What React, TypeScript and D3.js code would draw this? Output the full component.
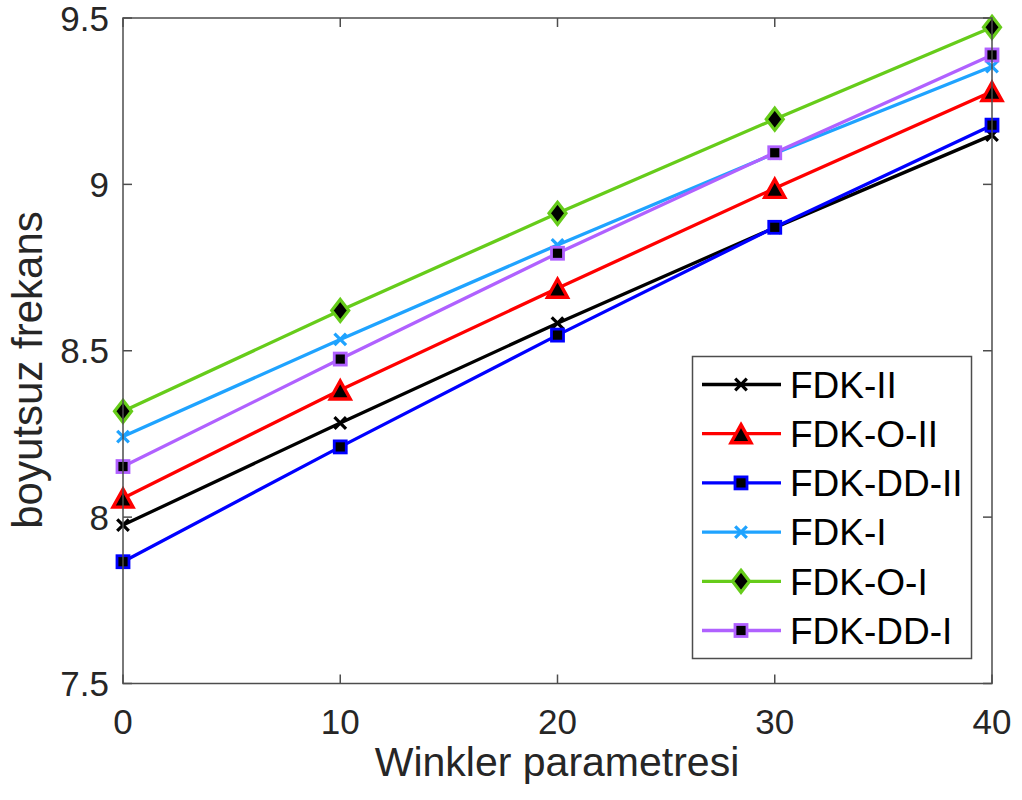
import React from "react";
import * as d3 from "d3";

const xValues = [0, 10, 20, 30, 40];
const seriesNames = ["FDK-II", "FDK-O-II", "FDK-DD-II", "FDK-I", "FDK-O-I", "FDK-DD-I"];
const fdkII = [7.976, 8.283, 8.583, 8.870, 9.148];
const fdkOII = [8.057, 8.382, 8.688, 8.988, 9.279];
const fdkDDII = [7.866, 8.211, 8.547, 8.871, 9.178];
const fdkI = [8.242, 8.534, 8.818, 9.093, 9.354];
const fdkOI = [8.318, 8.621, 8.913, 9.196, 9.472];
const fdkDDI = [8.152, 8.475, 8.793, 9.095, 9.389];
const xTicks = [0, 10, 20, 30, 40];
const yTicks = [7.5, 8, 8.5, 9, 9.5];
const xLabel = "Winkler parametresi";
const yLabel = "boyutsuz frekans";

const W = 1022;
const H = 800;
const left = 123;
const right = 992;
const top = 18;
const bottom = 683.5;

type Marker = "x" | "tri" | "sq" | "dia";
const seriesData = [fdkII, fdkOII, fdkDDII, fdkI, fdkOI, fdkDDI];
const colors = ["#000000", "#ff0000", "#0000ff", "#1fa3ff", "#66cc1a", "#b061ff"];
const markers: Marker[] = ["x", "tri", "sq", "x", "dia", "sq"];

function MarkerShape({ type, color, cx, cy }: { type: Marker; color: string; cx: number; cy: number }) {
  if (type === "x") {
    const s = 5.8;
    return (
      <path
        d={`M${cx - s},${cy - s}L${cx + s},${cy + s}M${cx - s},${cy + s}L${cx + s},${cy - s}`}
        stroke={color}
        strokeWidth={3.2}
        fill="none"
      />
    );
  }
  if (type === "tri") {
    const hw = 10;
    const hh = 9;
    return (
      <path
        d={`M${cx},${cy - hh}L${cx + hw},${cy + hh}L${cx - hw},${cy + hh}Z`}
        stroke={color}
        strokeWidth={3.4}
        strokeLinejoin="miter"
        fill="#000"
      />
    );
  }
  if (type === "sq") {
    const s = 6;
    return <rect x={cx - s} y={cy - s} width={2 * s} height={2 * s} stroke={color} strokeWidth={2.8} fill="#000" />;
  }
  const hw = 8.5;
  const hh = 11;
  return (
    <path
      d={`M${cx},${cy - hh}L${cx + hw},${cy}L${cx},${cy + hh}L${cx - hw},${cy}Z`}
      stroke={color}
      strokeWidth={3.2}
      fill="#000"
    />
  );
}

export default function App() {
  const x = d3.scaleLinear().domain([0, 40]).range([left, right]);
  const y = d3.scaleLinear().domain([7.5, 9.5]).range([bottom, top]);
  const line = d3
    .line<number>()
    .x((_, i) => x(xValues[i]))
    .y((d) => y(d));

  const axisColor = "#4d4d4d";
  const textColor = "#262626";
  const font = "'Liberation Sans', Arial, Helvetica, sans-serif";
  const tickLen = 9;

  const legX = 692.5;
  const legY = 356.5;
  const legW = 279;
  const legH = 302;
  const rowY0 = 384.5;
  const rowDy = 49.2;

  return (
    <svg width={W} height={H} style={{ position: "absolute", left: 0, top: 0, background: "#fff" }}>
      <rect x={0} y={0} width={W} height={H} fill="#fff" />
      {xTicks.map((t) => (
        <g key={"xt" + t}>
          <line x1={x(t)} x2={x(t)} y1={bottom} y2={bottom - tickLen} stroke={axisColor} strokeWidth={1.5} />
          <line x1={x(t)} x2={x(t)} y1={top} y2={top + tickLen} stroke={axisColor} strokeWidth={1.5} />
          <text x={x(t)} y={734} textAnchor="middle" fontFamily={font} fontSize={35} fill={textColor}>
            {t}
          </text>
        </g>
      ))}
      {yTicks.map((t) => (
        <g key={"yt" + t}>
          <line x1={left} x2={left + tickLen} y1={y(t)} y2={y(t)} stroke={axisColor} strokeWidth={1.5} />
          <line x1={right} x2={right - tickLen} y1={y(t)} y2={y(t)} stroke={axisColor} strokeWidth={1.5} />
          <text x={109} y={y(t)} dy="0.36em" textAnchor="end" fontFamily={font} fontSize={35} fill={textColor}>
            {t}
          </text>
        </g>
      ))}
      {seriesData.map((vals, si) => (
        <g key={"s" + si}>
          <path d={line(vals) || ""} fill="none" stroke={colors[si]} strokeWidth={3.3} />
          {vals.map((v, i) => (
            <MarkerShape key={i} type={markers[si]} color={colors[si]} cx={x(xValues[i])} cy={y(v)} />
          ))}
        </g>
      ))}
      <rect x={left} y={top} width={right - left} height={bottom - top} fill="none" stroke={axisColor} strokeWidth={1.5} />
      <rect x={legX} y={legY} width={legW} height={legH} fill="#fff" stroke={axisColor} strokeWidth={1.5} />
      {seriesNames.map((name, i) => {
        const ry = rowY0 + i * rowDy;
        return (
          <g key={"l" + i}>
            <line x1={702} x2={781} y1={ry} y2={ry} stroke={colors[i]} strokeWidth={3.3} />
            <MarkerShape type={markers[i]} color={colors[i]} cx={741} cy={ry} />
            <text x={790} y={ry} dy="0.36em" fontFamily={font} fontSize={37} fill="#000">
              {name}
            </text>
          </g>
        );
      })}
      <text x={557} y={776} textAnchor="middle" fontFamily={font} fontSize={41} fill={textColor}>
        {xLabel}
      </text>
      <text
        transform={`translate(42,370) rotate(-90)`}
        textAnchor="middle"
        fontFamily={font}
        fontSize={42}
        fill={textColor}
      >
        {yLabel}
      </text>
    </svg>
  );
}
